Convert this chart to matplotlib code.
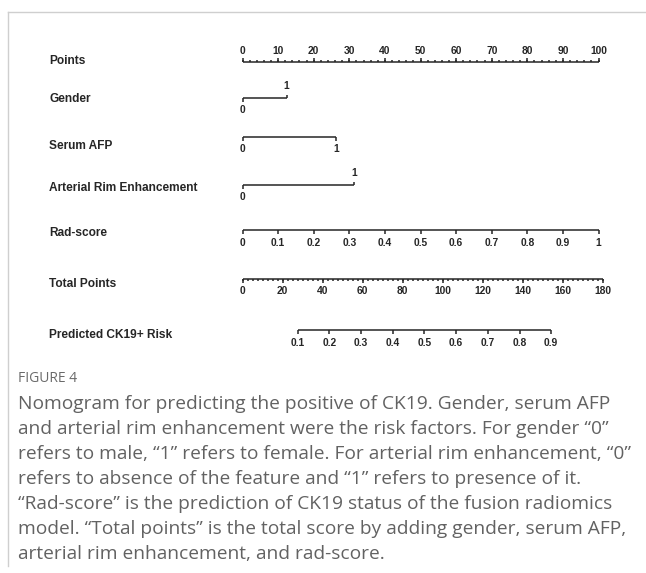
import matplotlib
matplotlib.use("Agg")
import matplotlib.pyplot as plt
from matplotlib.lines import Line2D
from matplotlib.transforms import blended_transform_factory

# ---------------- data ----------------
row_labels = ["Points", "Gender", "Serum AFP", "Arterial Rim Enhancement",
              "Rad-score", "Total Points", "Predicted CK19+ Risk"]

points_ticks = [0, 10, 20, 30, 40, 50, 60, 70, 80, 90, 100]

gender_levels = ["0", "1"]
gender_points = [0, 12.4]

afp_levels = ["0", "1"]
afp_points = [0, 26.4]

arterial_levels = ["0", "1"]
arterial_points = [0, 31.3]

rad_labels = ["0", "0.1", "0.2", "0.3", "0.4", "0.5", "0.6", "0.7", "0.8", "0.9", "1"]
rad_points = [0, 10, 20, 30, 40, 50, 60, 70, 80, 90, 100]

total_ticks = [0, 20, 40, 60, 80, 100, 120, 140, 160, 180]
total_max_in_points = 101.3   # the 180 total-points tick sits at 101.3 on the Points scale

risk_labels = ["0.1", "0.2", "0.3", "0.4", "0.5", "0.6", "0.7", "0.8", "0.9"]
risk_total_points = [27.7, 43.3, 59.2, 75.0, 90.8, 106.6, 122.6, 138.4, 153.8]

caption_title = "FIGURE 4"
caption_lines = [
    "Nomogram for predicting the positive of CK19. Gender, serum AFP",
    "and arterial rim enhancement were the risk factors. For gender \u201c0\u201d",
    "refers to male, \u201c1\u201d refers to female. For arterial rim enhancement, \u201c0\u201d",
    "refers to absence of the feature and \u201c1\u201d refers to presence of it.",
    "\u201cRad-score\u201d is the prediction of CK19 status of the fusion radiomics",
    "model. \u201cTotal points\u201d is the total score by adding gender, serum AFP,",
    "arterial rim enhancement, and rad-score.",
]

# ---------------- layout (pixels) ----------------
W, H = 646, 573
x0_px, x100_px = 242.5, 598.5
px_per_pt = (x100_px - x0_px) / 100.0
line_y = [62, 98, 137, 185, 230, 279, 330]
label_y = [61, 99, 146, 188, 233, 284, 335]
label_x_px = 49
ink = "#262626"
lw = 1.1

fig = plt.figure(figsize=(W / 100, H / 100), dpi=100)
ax = fig.add_axes([0, 0, 1, 1])
ax.set_xlim(-x0_px / px_per_pt, (W - x0_px) / px_per_pt)
ax.set_ylim(H, 0)
ax.axis("off")

lab_tr = blended_transform_factory(fig.transFigure, ax.transData)
tick_font = dict(family="Liberation Sans", fontsize=7.4, fontweight="bold", color=ink)
name_font = dict(family="Liberation Sans", fontsize=8.6, fontweight="bold", color=ink)


def hline(y, xa, xb):
    ax.plot([xa, xb], [y, y], color=ink, lw=lw, solid_capstyle="butt")


def tick(x, y, length):
    ax.plot([x, x], [y, y + length], color=ink, lw=lw, solid_capstyle="butt")


# row names
for name, yy in zip(row_labels, label_y):
    ax.text(label_x_px / W, yy, name, transform=lab_tr, ha="left", va="center", **name_font)

# Points axis (ticks up, labels above)
y = line_y[0]
hline(y, points_ticks[0], points_ticks[-1])
for v in range(0, 101, 2):
    tick(v, y, -2.2)
for v in points_ticks:
    tick(v, y, -4.2)
    ax.text(v, y - 11, str(v), ha="center", va="center", **tick_font)


# binary predictors
def binary_row(y, levels, pts, up_second):
    hline(y, pts[0], pts[1])
    tick(pts[0], y, 3.5)
    ax.text(pts[0], y + 12, levels[0], ha="center", va="center", **tick_font)
    if up_second:
        tick(pts[1], y, -3.5)
        ax.text(pts[1], y - 12, levels[1], ha="center", va="center", **tick_font)
    else:
        tick(pts[1], y, 3.5)
        ax.text(pts[1], y + 12, levels[1], ha="center", va="center", **tick_font)


binary_row(line_y[1], gender_levels, gender_points, True)
binary_row(line_y[2], afp_levels, afp_points, False)
binary_row(line_y[3], arterial_levels, arterial_points, True)

# Rad-score
y = line_y[4]
hline(y, rad_points[0], rad_points[-1])
for lab, p in zip(rad_labels, rad_points):
    tick(p, y, 3.5)
    ax.text(p, y + 12.5, lab, ha="center", va="center", **tick_font)

# Total points
y = line_y[5]
scale_t = total_max_in_points / total_ticks[-1]
hline(y, 0, total_ticks[-1] * scale_t)
t = 0.0
while t <= total_ticks[-1] + 1e-9:
    tick(t * scale_t, y, 2.2)
    t += 2.5
for v in total_ticks:
    tick(v * scale_t, y, 3.8)
    ax.text(v * scale_t, y + 12.5, str(v), ha="center", va="center", **tick_font)

# Risk
y = line_y[6]
rx = [v * scale_t for v in risk_total_points]
hline(y, rx[0], rx[-1])
for lab, p in zip(risk_labels, rx):
    tick(p, y, 3.5)
    ax.text(p, y + 12.5, lab, ha="center", va="center", **tick_font)

# frame lines
border = "#cfcfcf"
fig.add_artist(Line2D([8 / W, 1], [1 - 12 / H, 1 - 12 / H], transform=fig.transFigure,
                      color=border, lw=1.0))
fig.add_artist(Line2D([8 / W, 8 / W], [1 - 12 / H, 1 - 566 / H], transform=fig.transFigure,
                      color=border, lw=1.0))

# caption
cap_color = "#626262"
fig.text(18 / W, 1 - 379 / H, caption_title, ha="left", va="center",
         family="Open Sans", fontsize=10, color="#6a6a6a")
for i, line in enumerate(caption_lines):
    fig.text(18 / W, 1 - (404 + 25 * i) / H, line, ha="left", va="center",
             family="Open Sans", fontsize=13.8, color=cap_color)

fig.savefig("out.png", dpi=100)
